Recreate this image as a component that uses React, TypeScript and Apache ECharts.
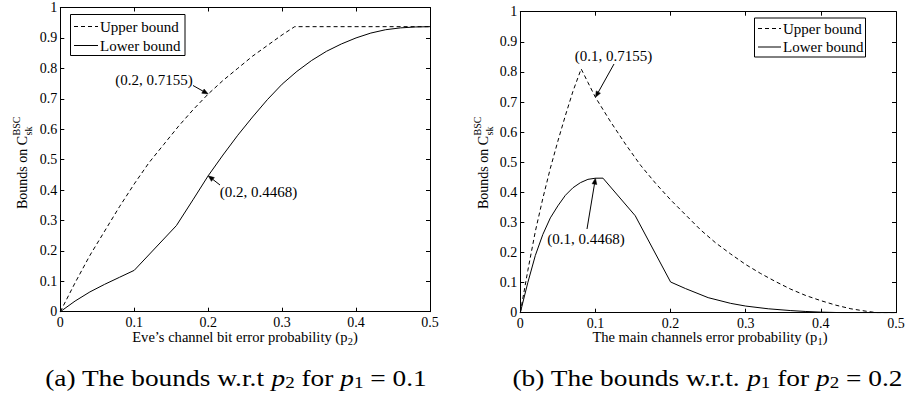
import React, { useEffect, useRef } from "react";
import * as echarts from "echarts";

const FONT = "Liberation Serif, Times New Roman, serif";

// ---------- data ----------
const xTickMax = 0.5;
const yTickMax = 1;
const tickStep = 0.1;

// (a) bounds w.r.t p2 for p1 = 0.1
const aUpperP2 = [0, 0.02, 0.04, 0.06, 0.08, 0.1, 0.12, 0.14, 0.16, 0.18, 0.2, 0.22, 0.24, 0.26, 0.28, 0.3, 0.317, 0.35, 0.4, 0.45, 0.5];
const aUpperVal = [0, 0.095, 0.185, 0.265, 0.345, 0.42, 0.49, 0.55, 0.61, 0.665, 0.7155, 0.76, 0.8, 0.84, 0.875, 0.91, 0.937, 0.937, 0.937, 0.937, 0.937];
const aLowerP2 = [0, 0.02, 0.04, 0.06, 0.08, 0.1, 0.157, 0.18, 0.2, 0.22, 0.24, 0.26, 0.28, 0.3, 0.32, 0.34, 0.36, 0.38, 0.4, 0.42, 0.44, 0.46, 0.48, 0.5];
const aLowerVal = [0, 0.035, 0.065, 0.09, 0.113, 0.136, 0.283, 0.37, 0.4468, 0.515, 0.58, 0.64, 0.697, 0.748, 0.79, 0.826, 0.856, 0.88, 0.9, 0.916, 0.927, 0.933, 0.936, 0.937];

// (b) bounds w.r.t p1 for p2 = 0.2
const bUpperP1 = [0, 0.01, 0.02, 0.03, 0.04, 0.05, 0.06, 0.07, 0.081, 0.09, 0.1, 0.12, 0.14, 0.16, 0.18, 0.2, 0.22, 0.24, 0.26, 0.28, 0.3, 0.32, 0.34, 0.36, 0.38, 0.4, 0.42, 0.44, 0.46, 0.475, 0.5];
const bUpperVal = [0, 0.14, 0.27, 0.38, 0.48, 0.57, 0.655, 0.735, 0.81, 0.765, 0.7155, 0.635, 0.56, 0.49, 0.43, 0.375, 0.325, 0.275, 0.232, 0.195, 0.16, 0.13, 0.103, 0.078, 0.057, 0.04, 0.025, 0.013, 0.005, 0, 0];
const bLowerP1 = [0, 0.01, 0.02, 0.03, 0.04, 0.05, 0.06, 0.07, 0.08, 0.09, 0.1, 0.11, 0.153, 0.2, 0.22, 0.25, 0.28, 0.3, 0.33, 0.36, 0.38, 0.4, 0.43, 0.5];
const bLowerVal = [0, 0.1, 0.19, 0.26, 0.315, 0.355, 0.39, 0.415, 0.432, 0.443, 0.4468, 0.447, 0.322, 0.102, 0.08, 0.05, 0.031, 0.022, 0.013, 0.007, 0.004, 0.002, 0, 0];

const legendNames = ["Upper bound", "Lower bound"];
const aMarkX = [0.2, 0.2];
const aMarkY = [0.7155, 0.4468];
const bMarkX = [0.1, 0.1];
const bMarkY = [0.7155, 0.4468];

// ---------- helpers ----------
const zip = (xs: number[], ys: number[]) => xs.map((x, i) => [x, ys[i]]);
const fmt = (v: number) => (v === 0 ? "0" : v === 1 ? "1" : v.toFixed(1));

let ctx: CanvasRenderingContext2D | null = null;
function tw(text: string, size: number, italic = false) {
  if (!ctx) ctx = document.createElement("canvas").getContext("2d");
  ctx!.font = `${italic ? "italic " : ""}${size}px ${FONT}`;
  return ctx!.measureText(text).width;
}

type Part = { t: string; size: number; italic?: boolean; dy?: number };
function partsWidth(parts: Part[]) {
  return parts.reduce((s, p) => s + tw(p.t, p.size, p.italic), 0);
}
function partsGroup(parts: Part[], x: number, y: number, align: "left" | "center", scaleX = 1): any {
  let cx = 0;
  const total = partsWidth(parts);
  const children = parts.map((p) => {
    const el = {
      type: "text",
      x: cx,
      y: p.dy || 0,
      silent: true,
      style: {
        text: p.t,
        fontSize: p.size,
        fontFamily: FONT,
        fontStyle: p.italic ? "italic" : "normal",
        fill: "#000",
        textAlign: "left",
        textVerticalAlign: "middle",
      },
    };
    cx += tw(p.t, p.size, p.italic);
    return el;
  });
  return {
    type: "group",
    x: align === "center" ? x - (total * scaleX) / 2 : x,
    y,
    scaleX,
    children,
  };
}

function arrow(tail: number[], tip: number[]): any[] {
  const dx = tip[0] - tail[0];
  const dy = tip[1] - tail[1];
  const len = Math.sqrt(dx * dx + dy * dy);
  const ux = dx / len, uy = dy / len;
  const hl = 6, hw = 2.4;
  const bx = tip[0] - ux * hl, by = tip[1] - uy * hl;
  return [
    { type: "line", silent: true, shape: { x1: tail[0], y1: tail[1], x2: bx, y2: by }, style: { stroke: "#000", lineWidth: 1 } },
    {
      type: "polygon",
      silent: true,
      shape: { points: [[tip[0], tip[1]], [bx - uy * hw, by + ux * hw], [bx + uy * hw, by - ux * hw]] },
      style: { fill: "#000", stroke: "#000", lineWidth: 0.5 },
    },
  ];
}

function legendBox(x: number, y: number, w: number, h: number, row1: number, row2: number, lx1: number, lx2: number, tx: number): any[] {
  return [
    { type: "rect", silent: true, shape: { x, y, width: w, height: h }, style: { fill: "#fff", stroke: "#000", lineWidth: 1 }, z: 10 },
    { type: "line", silent: true, shape: { x1: lx1, y1: row1, x2: lx2, y2: row1 }, style: { stroke: "#000", lineWidth: 1, lineDash: [4, 3] }, z: 11 },
    { type: "line", silent: true, shape: { x1: lx1, y1: row2, x2: lx2, y2: row2 }, style: { stroke: "#000", lineWidth: 1 }, z: 11 },
    { type: "text", silent: true, x: tx, y: row1, z: 11, style: { text: legendNames[0], fontSize: 15, fontFamily: FONT, fill: "#000", textAlign: "left", textVerticalAlign: "middle" } },
    { type: "text", silent: true, x: tx, y: row2, z: 11, style: { text: legendNames[1], fontSize: 15, fontFamily: FONT, fill: "#000", textAlign: "left", textVerticalAlign: "middle" } },
  ];
}

function annText(text: string, cx: number, cy: number): any {
  return { type: "text", silent: true, x: cx, y: cy, style: { text, fontSize: 15, fontFamily: FONT, fill: "#000", textAlign: "center", textVerticalAlign: "middle" } };
}

function xAxisOpt(gridIndex: number, position: "bottom" | "top", labels: boolean): any {
  return {
    type: "value",
    gridIndex,
    position,
    min: 0,
    max: xTickMax,
    interval: tickStep,
    axisLine: { show: true, onZero: false, lineStyle: { color: "#000", width: 1 } },
    axisTick: { show: true, inside: true, length: 4, lineStyle: { color: "#000", width: 1 } },
    splitLine: { show: false },
    axisLabel: { show: labels, formatter: fmt, fontFamily: FONT, fontSize: 14, color: "#000", margin: 4, showMinLabel: true, showMaxLabel: true },
  };
}
function yAxisOpt(gridIndex: number, position: "left" | "right", labels: boolean): any {
  return {
    type: "value",
    gridIndex,
    position,
    min: 0,
    max: yTickMax,
    interval: tickStep,
    axisLine: { show: true, onZero: false, lineStyle: { color: "#000", width: 1 } },
    axisTick: { show: true, inside: true, length: 4, lineStyle: { color: "#000", width: 1 } },
    splitLine: { show: false },
    axisLabel: { show: labels, formatter: fmt, fontFamily: FONT, fontSize: 14, color: "#000", margin: 3, showMinLabel: true, showMaxLabel: true },
  };
}

function lineSeries(name: string, xi: number, yi: number, data: number[][], dashed: boolean): any {
  return {
    type: "line",
    name,
    xAxisIndex: xi,
    yAxisIndex: yi,
    data,
    symbol: "none",
    showSymbol: false,
    silent: true,
    lineStyle: { color: "#000", width: 1, type: dashed ? [4, 3] : "solid" },
    z: 3,
  };
}

export default function App() {
  const ref = useRef<HTMLDivElement>(null);
  useEffect(() => {
    if (!ref.current) return;
    document.body.style.margin = "0";
    const chart = echarts.init(ref.current, null, { renderer: "svg", width: 907, height: 396 });
    chart.setOption({
      animation: false,
      backgroundColor: "#fff",
      textStyle: { fontFamily: FONT },
      grid: [
        { left: 60.3, top: 7.5, width: 369.7, height: 304.2, containLabel: false, outerBoundsMode: "none" },
        { left: 520.3, top: 11.7, width: 375.7, height: 301, containLabel: false, outerBoundsMode: "none" },
      ],
      xAxis: [xAxisOpt(0, "bottom", true), xAxisOpt(0, "top", false), xAxisOpt(1, "bottom", true), xAxisOpt(1, "top", false)],
      yAxis: [yAxisOpt(0, "left", true), yAxisOpt(0, "right", false), yAxisOpt(1, "left", true), yAxisOpt(1, "right", false)],
      series: [
        lineSeries(legendNames[0], 0, 0, zip(aUpperP2, aUpperVal), true),
        lineSeries(legendNames[1], 0, 0, zip(aLowerP2, aLowerVal), false),
        lineSeries(legendNames[0] + " b", 2, 2, zip(bUpperP1, bUpperVal), true),
        lineSeries(legendNames[1] + " b", 2, 2, zip(bLowerP1, bLowerVal), false),
      ],
    });

    const px = (xi: number, yi: number, v: number[]) =>
      chart.convertToPixel({ xAxisIndex: xi, yAxisIndex: yi } as any, v) as number[];

    const aTip1 = px(0, 0, [aMarkX[0], aMarkY[0]]);
    const aTip2 = px(0, 0, [aMarkX[1], aMarkY[1]]);
    const bTip1 = px(2, 2, [bMarkX[0], bMarkY[0]]);
    const bTip2 = px(2, 2, [bMarkX[1], bMarkY[1]]);
    const lab = (x: number, y: number) => `(${x}, ${y})`;

    const T = 14;
    const titleSub = 10;
    const capSize = 23;
    const capSub = 16;
    const capA: Part[] = [
      { t: "(a) The bounds w.r.t ", size: capSize },
      { t: "p", size: capSize, italic: true },
      { t: "2", size: capSub, dy: 5 },
      { t: " for ", size: capSize },
      { t: "p", size: capSize, italic: true },
      { t: "1", size: capSub, dy: 5 },
      { t: " = 0.1", size: capSize },
    ];
    const capB: Part[] = [
      { t: "(b) The bounds w.r.t. ", size: capSize },
      { t: "p", size: capSize, italic: true },
      { t: "1", size: capSub, dy: 5 },
      { t: " for ", size: capSize },
      { t: "p", size: capSize, italic: true },
      { t: "2", size: capSub, dy: 5 },
      { t: " = 0.2", size: capSize },
    ];
    const capScale = 390 / partsWidth(capB);

    const yTitle = (x: number, y: number) => {
      const w = tw("Bounds on C", T);
      return {
        type: "group",
        x,
        y,
        rotation: Math.PI / 2,
        children: [
          { type: "text", silent: true, x: 0, y: 0, style: { text: "Bounds on C", fontSize: T, fontFamily: FONT, fill: "#000", textAlign: "left", textVerticalAlign: "middle" } },
          { type: "text", silent: true, x: w + 0.5, y: -6, style: { text: "BSC", fontSize: titleSub, fontFamily: FONT, fill: "#000", textAlign: "left", textVerticalAlign: "middle" } },
          { type: "text", silent: true, x: w + 0.5, y: 6.5, style: { text: "sk", fontSize: titleSub, fontFamily: FONT, fill: "#000", textAlign: "left", textVerticalAlign: "middle" } },
        ],
      };
    };

    const graphic: any[] = [
      ...legendBox(70.5, 14.5, 114.5, 41, 26.5, 45.5, 74, 98, 100),
      ...legendBox(754.5, 18, 111, 39, 28.5, 47, 758, 781, 783),
      annText(lab(aMarkX[0], aMarkY[0]), 154, 80),
      ...arrow([193, 85.5], aTip1),
      annText(lab(aMarkX[1], aMarkY[1]), 258.5, 192),
      ...arrow([220, 185], aTip2),
      annText(lab(bMarkX[0], bMarkY[0]), 613.5, 56),
      ...arrow([614, 64], bTip1),
      annText(lab(bMarkX[1], bMarkY[1]), 586, 238.5),
      ...arrow([587, 229], bTip2),
      partsGroup(
        [
          { t: "Eve\u2019s channel bit error probability (p", size: T },
          { t: "2", size: titleSub, dy: 4 },
          { t: ")", size: T },
        ],
        245,
        337.5,
        "center",
        1.04
      ),
      partsGroup(
        [
          { t: "The main channels error probability (p", size: T },
          { t: "1", size: titleSub, dy: 4 },
          { t: ")", size: T },
        ],
        710,
        337.5,
        "center",
        1.04
      ),
      yTitle(22, 209),
      yTitle(483, 209),
      partsGroup(capA, 236, 378, "center", capScale),
      partsGroup(capB, 707.5, 378, "center", capScale),
    ];
    chart.setOption({ graphic });

    return () => chart.dispose();
  }, []);
  return <div ref={ref} style={{ position: "absolute", left: 0, top: 0, width: 907, height: 396, background: "#fff" }} />;
}
